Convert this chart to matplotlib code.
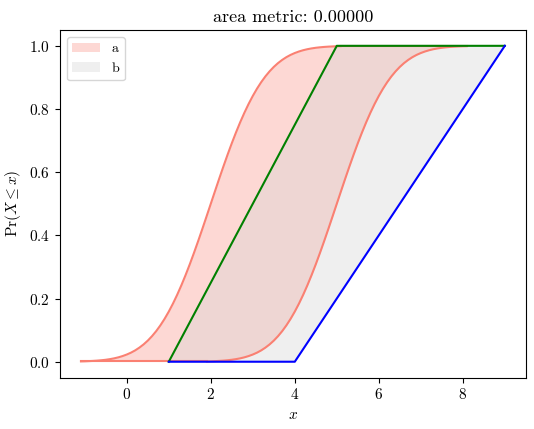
import matplotlib
matplotlib.use('Agg')
import matplotlib.pyplot as plt

plt.rcParams['font.family'] = 'serif'
plt.rcParams['font.serif'] = ['cmr10', 'DejaVu Serif']
plt.rcParams['mathtext.fontset'] = 'cm'
plt.rcParams['axes.formatter.use_mathtext'] = True
plt.rcParams['font.size'] = 11

### p-box a: two bounding cdfs (same probability levels)
aProbs = [0.0010, 0.0013, 0.0019, 0.0026, 0.0035, 0.0047, 0.0062, 0.0082, 0.0107, 0.0139,
          0.0179, 0.0228, 0.0287, 0.0359, 0.0446, 0.0548, 0.0668, 0.0808, 0.0968, 0.1151,
          0.1357, 0.1587, 0.1841, 0.2119, 0.2420, 0.2743, 0.3085, 0.3446, 0.3821, 0.4207,
          0.4602, 0.5000, 0.5398, 0.5793, 0.6179, 0.6554, 0.6915, 0.7257, 0.7580, 0.7881,
          0.8159, 0.8413, 0.8643, 0.8849, 0.9032, 0.9192, 0.9332, 0.9452, 0.9554, 0.9641,
          0.9713, 0.9772, 0.9821, 0.9861, 0.9893, 0.9918, 0.9938, 0.9953, 0.9965, 0.9974,
          0.9981, 0.9987, 0.9990]
aLeftX = [-1.09, -1.0, -0.9, -0.8, -0.7, -0.6, -0.5, -0.4, -0.3, -0.2,
          -0.1, 0.0, 0.1, 0.2, 0.3, 0.4, 0.5, 0.6, 0.7, 0.8,
          0.9, 1.0, 1.1, 1.2, 1.3, 1.4, 1.5, 1.6, 1.7, 1.8,
          1.9, 2.0, 2.1, 2.2, 2.3, 2.4, 2.5, 2.6, 2.7, 2.8,
          2.9, 3.0, 3.1, 3.2, 3.3, 3.4, 3.5, 3.6, 3.7, 3.8,
          3.9, 4.0, 4.1, 4.2, 4.3, 4.4, 4.5, 4.6, 4.7, 4.8,
          4.9, 5.0, 5.09]
aRightX = [1.91, 2.0, 2.1, 2.2, 2.3, 2.4, 2.5, 2.6, 2.7, 2.8,
           2.9, 3.0, 3.1, 3.2, 3.3, 3.4, 3.5, 3.6, 3.7, 3.8,
           3.9, 4.0, 4.1, 4.2, 4.3, 4.4, 4.5, 4.6, 4.7, 4.8,
           4.9, 5.0, 5.1, 5.2, 5.3, 5.4, 5.5, 5.6, 5.7, 5.8,
           5.9, 6.0, 6.1, 6.2, 6.3, 6.4, 6.5, 6.6, 6.7, 6.8,
           6.9, 7.0, 7.1, 7.2, 7.3, 7.4, 7.5, 7.6, 7.7, 7.8,
           7.9, 8.0, 8.09]

### p-box b: piecewise linear bounds
bProbs = [0.0, 1.0]
bLeftX = [1.0, 5.0]
bRightX = [4.0, 9.0]
bUpperX = [1.0, 5.0, 9.0]
bUpperY = [0.0, 1.0, 1.0]
bLowerX = [1.0, 4.0, 9.0]
bLowerY = [0.0, 0.0, 1.0]

fig, ax = plt.subplots(figsize=(5.34, 4.29), dpi=100)

# a
ax.fill_betweenx(aProbs, aLeftX, aRightX, color='salmon', alpha=0.3, linewidth=0, label='a')
ax.plot(aLeftX, aProbs, color='salmon')
ax.plot(aRightX, aProbs, color='salmon')
ax.plot([aLeftX[0], aRightX[0]], [aProbs[0], aProbs[0]], color='salmon')
ax.plot([aLeftX[-1], aRightX[-1]], [aProbs[-1], aProbs[-1]], color='salmon')

# b
ax.fill_betweenx(bProbs, bLeftX, bRightX, color='lightgray', alpha=0.35, linewidth=0, label='b')
ax.plot(bUpperX, bUpperY, color='green')
ax.plot(bLowerX, bLowerY, color='blue')

ax.set_title('area metric: 0.00000', fontsize=13)
ax.set_xlabel('$x$')
ax.set_ylabel(r'$\Pr(X \leq x)$')
ax.legend(loc='upper left', fontsize=10)

fig.subplots_adjust(left=0.112, right=0.985, top=0.93, bottom=0.12)
fig.savefig('out.png', dpi=100)
plt.close()
